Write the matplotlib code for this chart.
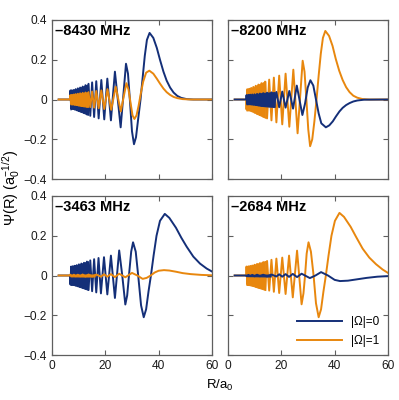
import matplotlib
matplotlib.use('Agg')
import matplotlib.pyplot as plt

# ---- datos (R en a0, Psi en a0^-1/2) ----
# -8430 MHz
r_8430_0 = [2.5, 6.8, 6.9, 7.2, 7.5, 7.85, 8.2, 8.55, 8.9, 9.3, 9.7, 10.1, 10.55, 11.0, 11.5, 12.0, 12.55,
            13.1, 13.7, 14.35, 15.05, 15.8, 16.6, 17.5, 18.5, 19.6, 20.75, 22.1, 23.6, 25.75, 27.75, 28.5,
            29.25, 30.0, 30.75, 31.5, 32.3, 33.2, 34.0, 34.8, 35.6, 36.6, 38.0, 39.3, 40.5, 41.8, 43.0, 44.3,
            45.6, 47.0, 48.5, 50.5, 53.0, 60.0]
psi_8430_0 = [0, 0, 0.045, -0.045, 0.046, -0.047, 0.048, -0.05, 0.052, -0.054, 0.056, -0.058, 0.06, -0.062,
              0.065, -0.068, 0.072, -0.075, 0.079, -0.082, 0.086, -0.088, 0.092, -0.095, 0.098, -0.1, 0.105,
              -0.105, 0.14, -0.14, 0.18, 0.13, -0.01, -0.16, -0.225, -0.19, -0.1, 0.0, 0.11, 0.22, 0.3, 0.335,
              0.31, 0.26, 0.2, 0.14, 0.095, 0.06, 0.035, 0.018, 0.008, 0.002, 0.0, 0.0]
r_8430_1 = [2.5, 6.8, 6.9, 7.2, 7.5, 7.85, 8.2, 8.55, 8.9, 9.3, 9.7, 10.1, 10.55, 11.0, 11.5, 12.0, 12.55,
            13.1, 13.7, 14.35, 15.05, 15.8, 16.6, 17.5, 18.5, 19.6, 20.8, 22.2, 23.9, 25.8, 27.9, 28.7, 29.5,
            30.2, 30.9, 31.7, 32.5, 33.3, 34.2, 35.3, 36.5, 38.0, 39.3, 40.5, 41.8, 43.0, 44.3, 45.6, 47.0,
            49.0, 52.0, 60.0]
psi_8430_1 = [0, 0, 0.022, -0.022, 0.023, -0.024, 0.025, -0.026, 0.027, -0.028, 0.029, -0.03, 0.031, -0.032,
              0.033, -0.034, 0.035, -0.036, 0.037, -0.038, 0.04, -0.041, 0.043, -0.044, 0.046, -0.048, 0.052,
              -0.052, 0.064, -0.06, 0.082, 0.05, -0.02, -0.08, -0.098, -0.08, -0.03, 0.03, 0.09, 0.135, 0.145,
              0.13, 0.105, 0.08, 0.055, 0.037, 0.023, 0.013, 0.007, 0.002, 0.0, 0.0]

# -8200 MHz
r_8200_0 = [2.5, 6.8, 6.95, 7.3, 7.65, 8.0, 8.35, 8.7, 9.1, 9.5, 9.95, 10.4, 10.9, 11.4, 11.95, 12.55, 13.2,
            13.9, 14.65, 15.45, 16.3, 17.2, 18.15, 19.2, 20.35, 21.6, 23.0, 24.4, 25.8, 27.9, 28.9, 29.9, 30.9,
            32.0, 33.0, 34.0, 35.0, 36.7, 38.0, 39.3, 40.5, 41.8, 43.0, 44.3, 45.6, 47.0, 48.5, 51.0, 60.0]
psi_8200_0 = [0, 0, 0.022, -0.022, 0.023, -0.023, 0.024, -0.024, 0.025, -0.025, 0.026, -0.027, 0.028, -0.029,
              0.03, -0.031, 0.032, -0.033, 0.034, -0.035, 0.036, -0.037, 0.038, -0.039, 0.04, -0.041, 0.043,
              -0.046, 0.07, -0.078, -0.02, 0.06, 0.097, 0.07, 0.0, -0.07, -0.12, -0.14, -0.13, -0.11, -0.085,
              -0.06, -0.042, -0.028, -0.018, -0.01, -0.005, -0.001, 0.0]
r_8200_1 = [2.5, 6.8, 6.95, 7.3, 7.65, 8.0, 8.35, 8.7, 9.1, 9.5, 9.95, 10.4, 10.9, 11.4, 11.95, 12.55, 13.2,
            13.9, 14.65, 15.45, 16.3, 17.2, 18.15, 19.2, 20.35, 21.6, 23.0, 24.5, 26.1, 28.0, 28.7, 29.4, 30.1,
            30.8, 31.6, 32.4, 33.2, 34.0, 34.8, 35.6, 36.5, 37.9, 39.2, 40.4, 41.7, 43.0, 44.3, 45.6, 47.0,
            48.5, 50.5, 53.0, 60.0]
psi_8200_1 = [0, 0, -0.05, 0.05, -0.052, 0.054, -0.056, 0.058, -0.06, 0.063, -0.066, 0.069, -0.072, 0.075,
              -0.078, 0.082, -0.086, 0.09, -0.095, 0.1, -0.105, 0.11, -0.115, 0.12, -0.125, 0.13, -0.137, 0.15,
              -0.17, 0.195, 0.14, 0.0, -0.15, -0.235, -0.2, -0.11, 0.0, 0.12, 0.23, 0.31, 0.345, 0.32, 0.27,
              0.205, 0.145, 0.098, 0.062, 0.037, 0.019, 0.009, 0.002, 0.0, 0.0]

# -3463 MHz
r_3463_0 = [2.5, 6.8, 6.9, 7.2, 7.5, 7.85, 8.2, 8.55, 8.9, 9.3, 9.7, 10.1, 10.55, 11.0, 11.5, 12.0, 12.55,
            13.1, 13.7, 14.35, 15.05, 15.8, 16.6, 17.45, 18.35, 19.5, 20.75, 22.1, 23.6, 25.2, 26.35, 27.5,
            28.2, 29.0, 29.7, 30.4, 31.4, 32.4, 33.4, 34.4, 35.3, 36.2, 37.1, 38.1, 39.2, 40.5, 42.3, 44.0,
            46.5, 48.5, 50.5, 53.0, 55.5, 58.0, 60.0]
psi_3463_0 = [0, 0, -0.045, 0.045, -0.046, 0.047, -0.048, 0.049, -0.05, 0.052, -0.054, 0.056, -0.058, 0.06,
              -0.062, 0.064, -0.067, 0.07, -0.073, 0.076, -0.079, 0.082, -0.085, 0.088, -0.09, 0.092, -0.095,
              0.1, -0.113, 0.126, 0.0, -0.146, -0.1, 0.02, 0.12, 0.167, 0.12, -0.01, -0.15, -0.21, -0.17,
              -0.08, 0.0, 0.1, 0.2, 0.275, 0.31, 0.29, 0.24, 0.19, 0.145, 0.095, 0.06, 0.035, 0.02]
r_3463_1 = [2.5, 6.8, 6.9, 7.5, 8.2, 8.9, 9.7, 10.55, 11.5, 12.55, 13.7, 15.05, 16.6, 18.35, 19.5, 20.75,
            22.1, 23.6, 25.2, 27.5, 30.0, 32.0, 34.0, 35.5, 37.0, 38.5, 40.0, 42.0, 44.0, 46.5, 49.0, 52.0,
            56.0, 60.0]
psi_3463_1 = [0, 0, 0.004, -0.004, 0.004, -0.004, 0.004, -0.004, 0.005, -0.005, 0.005, -0.005, 0.005, -0.006,
              0.006, -0.006, 0.007, -0.008, 0.009, -0.009, 0.013, 0.0, -0.017, -0.012, 0.0, 0.015, 0.024,
              0.027, 0.025, 0.019, 0.012, 0.007, 0.003, 0.001]

# -2684 MHz
r_2684_0 = [2.5, 6.8, 6.95, 7.65, 8.35, 9.1, 9.95, 10.9, 11.95, 13.2, 14.65, 16.3, 18.15, 19.2, 20.35, 21.6,
            22.9, 24.3, 25.9, 27.6, 30.7, 32.8, 34.9, 37.5, 40.0, 42.0, 45.0, 48.0, 52.0, 56.0, 60.0]
psi_2684_0 = [0, 0, -0.003, 0.003, -0.003, 0.003, -0.004, 0.004, -0.004, 0.004, -0.005, 0.005, -0.005, 0.006,
              -0.006, 0.007, -0.007, 0.008, -0.008, 0.009, -0.013, 0.0, 0.017, 0.0, -0.022, -0.028, -0.026,
              -0.02, -0.012, -0.006, -0.003]
r_2684_1 = [2.5, 6.8, 6.95, 7.3, 7.65, 8.0, 8.35, 8.7, 9.1, 9.5, 9.95, 10.4, 10.9, 11.4, 11.95, 12.55, 13.2,
            13.9, 14.65, 15.45, 16.3, 17.2, 18.15, 19.2, 20.35, 21.6, 22.9, 24.3, 25.9, 27.6, 28.3, 28.9, 29.5,
            30.2, 31.1, 32.1, 33.0, 34.0, 34.9, 35.8, 36.7, 37.7, 38.8, 40.1, 41.8, 43.5, 46.0, 48.0, 50.5,
            53.0, 55.5, 58.0, 60.0]
psi_2684_1 = [0, 0, 0.045, -0.045, 0.046, -0.047, 0.048, -0.049, 0.05, -0.052, 0.054, -0.056, 0.058, -0.06,
              0.062, -0.064, 0.067, -0.07, 0.073, -0.076, 0.079, -0.082, 0.085, -0.088, 0.09, -0.093, 0.1,
              -0.11, 0.125, -0.145, -0.09, 0.0, 0.11, 0.167, 0.12, 0.0, -0.14, -0.21, -0.17, -0.08, 0.0, 0.1,
              0.2, 0.275, 0.315, 0.295, 0.245, 0.195, 0.135, 0.09, 0.057, 0.03, 0.013]

# envolvente de la zona de oscilacion rapida (no resuelta en la figura)
r_env_8430_0 = [6.9, 7.5, 8.5, 9.5, 10.5, 11.5, 12.5, 13.5]
env_8430_0 = [0.05, 0.046, 0.049, 0.055, 0.06, 0.065, 0.071, 0.077]
r_env_8430_1 = [6.9, 8.0, 9.5, 11.0, 12.5, 13.5]
env_8430_1 = [0.024, 0.024, 0.028, 0.032, 0.035, 0.037]
r_env_8200_0 = [6.9, 8.0, 10.0, 12.0, 14.0, 16.0, 17.5]
env_8200_0 = [0.024, 0.023, 0.026, 0.031, 0.034, 0.036, 0.037]
r_env_8200_1 = [6.9, 8.0, 9.5, 11.0, 12.5, 14.0]
env_8200_1 = [0.055, 0.054, 0.062, 0.073, 0.082, 0.092]
r_env_3463_0 = [6.9, 8.0, 9.5, 11.0, 12.5, 13.5]
env_3463_0 = [0.047, 0.047, 0.053, 0.06, 0.067, 0.072]
r_env_3463_1 = [6.9, 12.0, 16.0]
env_3463_1 = [0.004, 0.005, 0.005]
r_env_2684_0 = [6.9, 12.0, 16.0]
env_2684_0 = [0.003, 0.004, 0.005]
r_env_2684_1 = [6.9, 8.0, 9.5, 11.0, 12.5, 14.0]
env_2684_1 = [0.047, 0.048, 0.053, 0.06, 0.066, 0.073]

titulos = ['\u20138430 MHz', '\u20138200 MHz', '\u20133463 MHz', '\u20132684 MHz']
etiquetas = ['|\u03a9|=0', '|\u03a9|=1']
x_ticks = [0, 20, 40, 60]
y_ticks = [-0.4, -0.2, 0, 0.2, 0.4]
y_ticklabels = ['\u22120.4', '\u22120.2', '0', '0.2', '0.4']

plt.rcParams['font.family'] = ['Liberation Sans', 'DejaVu Sans']
plt.rcParams['mathtext.fontset'] = 'custom'
plt.rcParams['mathtext.rm'] = 'Liberation Sans'
plt.rcParams['mathtext.it'] = 'Liberation Sans:italic'

azul = '#142f78'
naranja = '#e8870e'
gris = '#5f5f5f'

fig = plt.figure(figsize=(3.99, 4.0), dpi=100)

posiciones = [[0.1303, 0.5525, 0.401, 0.3975], [0.5714, 0.5525, 0.401, 0.3975],
              [0.1303, 0.1125, 0.401, 0.3975], [0.5714, 0.1125, 0.401, 0.3975]]
curvas = [(r_8430_0, psi_8430_0, r_8430_1, psi_8430_1),
          (r_8200_0, psi_8200_0, r_8200_1, psi_8200_1),
          (r_3463_0, psi_3463_0, r_3463_1, psi_3463_1),
          (r_2684_0, psi_2684_0, r_2684_1, psi_2684_1)]
bandas = [(r_env_8430_0, env_8430_0, r_env_8430_1, env_8430_1),
          (r_env_8200_0, env_8200_0, r_env_8200_1, env_8200_1),
          (r_env_3463_0, env_3463_0, r_env_3463_1, env_3463_1),
          (r_env_2684_0, env_2684_0, r_env_2684_1, env_2684_1)]
# la curva de menor amplitud queda encima
azul_arriba = [False, True, False, True]

for i in range(4):
    ax = fig.add_axes(posiciones[i])
    r0, p0, r1, p1 = curvas[i]
    re0, e0, re1, e1 = bandas[i]
    z0, z1 = (3, 1) if azul_arriba[i] else (1, 3)
    ax.fill_between(re0, [-v for v in e0], e0, color=azul, lw=0.8, zorder=z0)
    ax.plot(r0, p0, color=azul, lw=1.4, zorder=z0 + 1, label=etiquetas[0])
    ax.fill_between(re1, [-v for v in e1], e1, color=naranja, lw=0.8, zorder=z1)
    ax.plot(r1, p1, color=naranja, lw=1.4, zorder=z1 + 1, label=etiquetas[1])
    ax.set_xlim(0, 60)
    ax.set_ylim(-0.4, 0.4)
    ax.set_xticks(x_ticks)
    ax.set_yticks(y_ticks)
    ax.set_yticklabels(y_ticklabels)
    ax.tick_params(direction='in', top=True, right=True, length=3.5, width=0.8, color=gris,
                   labelsize=8.6, pad=3.5, labelcolor='#1a1a1a')
    for s in ax.spines.values():
        s.set_color(gris)
        s.set_linewidth(0.9)
        s.set_zorder(5)
    ax.text(0.02, 0.975, titulos[i], transform=ax.transAxes, ha='left', va='top',
            fontsize=10.5, fontweight='bold', zorder=6)
    if i % 2 == 1:
        ax.tick_params(labelleft=False)
    if i < 2:
        ax.tick_params(labelbottom=False)
    if i == 3:
        ax.legend(loc='lower right', frameon=False, fontsize=8.5, handlelength=3.8,
                  borderaxespad=0.3, labelspacing=0.6)

fig.text(0.027, 0.53, '\u03a8(R) (a$_0^{-1/2}$)', rotation=90, ha='center', va='center', fontsize=10.5)
fig.text(0.551, 0.037, 'R/a$_0$', ha='center', va='center', fontsize=9.5)

plt.savefig('out.png', dpi=100)
plt.close()
